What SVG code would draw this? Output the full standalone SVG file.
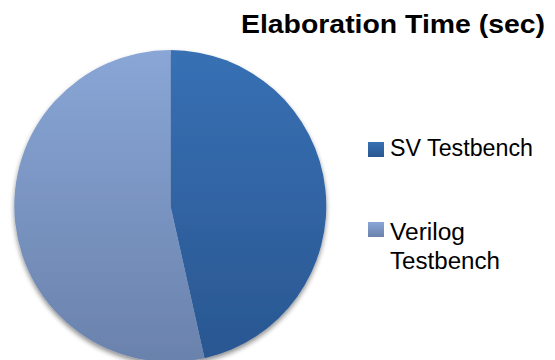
<svg xmlns="http://www.w3.org/2000/svg" width="555" height="360" viewBox="0 0 555 360">
<defs>
<linearGradient id="gSV" x1="0" y1="0" x2="0" y2="1">
<stop offset="0" stop-color="#3770B4"/>
<stop offset="1" stop-color="#2A5791"/>
</linearGradient>
<linearGradient id="gVL" x1="0" y1="0" x2="0" y2="1">
<stop offset="0" stop-color="#89A6D6"/>
<stop offset="1" stop-color="#6A82AC"/>
</linearGradient>
<linearGradient id="lSV" x1="0" y1="0" x2="0" y2="1">
<stop offset="0" stop-color="#3770B4"/>
<stop offset="1" stop-color="#2A5791"/>
</linearGradient>
<linearGradient id="lVL" x1="0" y1="0" x2="0" y2="1">
<stop offset="0" stop-color="#89A6D6"/>
<stop offset="1" stop-color="#6A82AC"/>
</linearGradient>
<filter id="sh" x="-10%" y="-10%" width="120%" height="120%">
<feGaussianBlur in="SourceAlpha" stdDeviation="2.5"/>
<feOffset dx="0" dy="3" result="b"/>
<feComponentTransfer><feFuncA type="linear" slope="0.45"/></feComponentTransfer>
<feMerge><feMergeNode/><feMergeNode in="SourceGraphic"/></feMerge>
</filter>
<style>
.t{font-family:"Liberation Sans",Arial,sans-serif;fill:#000}
.title{font-size:25px;font-weight:bold}
.leg{font-size:23px}
</style>
</defs>
<rect width="555" height="360" fill="#fff"/>
<text class="t title" x="545" y="33" text-anchor="end" textLength="304" lengthAdjust="spacingAndGlyphs">Elaboration Time (sec)</text>
<g filter="url(#sh)">
<g id="slice-sv"><path d="M170.5,206 L170.5,50 A156,156 0 0 1 204.5,358.2 Z" fill="url(#gSV)"/></g>
<g id="slice-verilog"><path d="M170.5,206 L204.5,358.2 A156,156 0 1 1 170.5,50 Z" fill="url(#gVL)"/></g>
</g>
<g id="legend-sv">
<rect x="368" y="142" width="16" height="15" fill="url(#lSV)"/>
<text class="t leg" x="390" y="156" textLength="143" lengthAdjust="spacingAndGlyphs">SV Testbench</text>
</g>
<g id="legend-verilog">
<rect x="368" y="222" width="16" height="15" fill="url(#lVL)"/>
<text class="t leg" x="390" y="240" textLength="75" lengthAdjust="spacingAndGlyphs">Verilog</text>
<text class="t leg" x="390" y="269" textLength="110" lengthAdjust="spacingAndGlyphs">Testbench</text>
</g>
</svg>
